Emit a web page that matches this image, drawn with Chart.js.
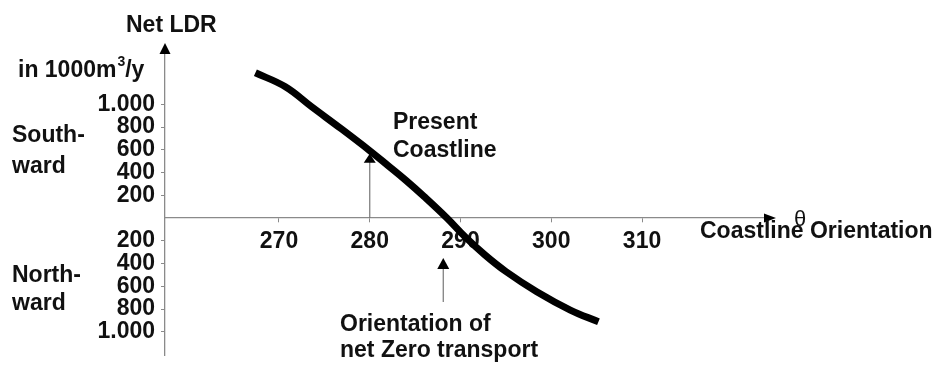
<!DOCTYPE html>
<html>
<head>
<meta charset="utf-8">
<script src="https://cdn.jsdelivr.net/npm/chart.js@4"></script>
<style>
  html, body { margin: 0; padding: 0; background: #fff; }
  #wrap { position: relative; width: 939px; height: 365px; }
</style>
</head>
<body>
<div id="wrap"><canvas id="c"></canvas></div>
<script>
// Net longshore drift rate (1000 m3/y) against coastline orientation (degrees)
const orientation = [267.4, 270.7, 273.6, 276.9, 280.0, 282.0, 284.0, 286.0, 288.5, 290.5, 292.7, 295.0, 298.4, 302.1, 305.2];
const netLDR      = [1277, 1154, 978, 782, 592, 462, 330, 188, 0, -165, -325, -470, -648, -809, -912];

// Axis ticks
const xTicks = [270, 280, 290, 300, 310];
const yTicks = [1000, 800, 600, 400, 200, -200, -400, -600, -800, -1000];

// Marked orientations
const presentOrientation = 280;
const presentArrowTip = 565;
const zeroOrientation = 288.1;
const zeroArrowTip = -352;
const zeroArrowTail = -738;

const FONT = "'Liberation Sans', Arial, Helvetica, sans-serif";
const INK = '#111';
const AXIS = '#8a8a8a';

function fmtThousands(v) {
  return String(Math.abs(v)).replace(/\B(?=(\d{3})+(?!\d))/g, '.');
}

// keep tick labels from pushing the plot area inwards
function noLabelPadding(s) {
  s.paddingTop = 0; s.paddingBottom = 0; s.paddingLeft = 0; s.paddingRight = 0;
}

function arrowHead(ctx, tipX, tipY, dir, len, half) {
  ctx.beginPath();
  if (dir === 'up') {
    ctx.moveTo(tipX, tipY);
    ctx.lineTo(tipX - half, tipY + len);
    ctx.lineTo(tipX + half, tipY + len);
  } else {
    ctx.moveTo(tipX, tipY);
    ctx.lineTo(tipX - len, tipY - half);
    ctx.lineTo(tipX - len, tipY + half);
  }
  ctx.closePath();
  ctx.fill();
}

const overlay = {
  id: 'overlay',
  afterDraw(chart) {
    const { ctx, chartArea, scales: { x, y } } = chart;
    const axisX = chartArea.left;
    const axisY = y.getPixelForValue(0);
    ctx.save();

    // axis arrowheads
    ctx.fillStyle = '#000';
    arrowHead(ctx, axisX, chartArea.top - 11, 'up', 11, 5.5);
    arrowHead(ctx, chartArea.right + 12, axisY, 'right', 12, 4.5);

    // "Present Coastline" pointer
    ctx.strokeStyle = '#777';
    ctx.lineWidth = 1.2;
    let px = x.getPixelForValue(presentOrientation);
    let tip = y.getPixelForValue(presentArrowTip);
    ctx.beginPath();
    ctx.moveTo(px, axisY);
    ctx.lineTo(px, tip + 8);
    ctx.stroke();
    arrowHead(ctx, px, tip, 'up', 9, 6);

    // "Orientation of net Zero transport" pointer
    px = x.getPixelForValue(zeroOrientation);
    tip = y.getPixelForValue(zeroArrowTip);
    const tail = y.getPixelForValue(zeroArrowTail);
    ctx.beginPath();
    ctx.moveTo(px, tail);
    ctx.lineTo(px, tip + 10);
    ctx.stroke();
    arrowHead(ctx, px, tip, 'up', 11, 6);

    // text
    ctx.fillStyle = INK;
    ctx.textAlign = 'left';
    ctx.textBaseline = 'alphabetic';
    const bold = `bold 23px ${FONT}`;
    const put = (t, tx, ty) => { ctx.font = bold; ctx.fillText(t, tx, ty); };

    put('Net LDR', 126, 32);

    ctx.font = bold;
    const w = ctx.measureText('in 1000m').width;
    ctx.fillText('in 1000m', 18, 77);
    ctx.font = `bold 14px ${FONT}`;
    ctx.fillText('3', 18 + w + 1, 66);
    const w3 = ctx.measureText('3').width;
    ctx.font = bold;
    ctx.fillText('/y', 18 + w + w3 + 1, 77);

    put('South-', 12, 142);
    put('ward', 12, 173);
    put('North-', 12, 282);
    put('ward', 12, 310);

    put('Present', 393, 129);
    put('Coastline', 393, 157);

    put('Orientation of', 340, 331);
    put('net Zero transport', 340, 357);

    put('Coastline Orientation', 700, 238);

    ctx.font = `22px ${FONT}`;
    ctx.textAlign = 'center';
    ctx.textBaseline = 'middle';
    ctx.fillText('\u03b8', 800, 220);

    ctx.restore();
  }
};

new Chart(document.getElementById('c'), {
  type: 'line',
  data: {
    datasets: [{
      data: orientation.map((o, i) => ({ x: o, y: netLDR[i] })),
      borderColor: '#000',
      borderWidth: 7,
      borderCapStyle: 'butt',
      borderJoinStyle: 'round',
      pointRadius: 0,
      fill: false,
      tension: 0.4,
      clip: false
    }]
  },
  options: {
    responsive: true,
    maintainAspectRatio: false,
    animation: false,
    events: [],
    layout: { padding: { left: 0, top: 54, right: 175, bottom: 10 } },
    plugins: { legend: { display: false }, tooltip: { enabled: false } },
    scales: {
      x: {
        type: 'linear',
        position: { y: 0 },
        min: 257.44,
        max: 323.44,
        afterBuildTicks: s => { s.ticks = xTicks.map(v => ({ value: v })); },
        afterFit: noLabelPadding,
        grid: { display: true, drawOnChartArea: false, drawTicks: true, tickLength: 4, color: AXIS },
        border: { display: true, color: AXIS, width: 1.3 },
        ticks: {
          autoSkip: false, maxRotation: 0, padding: 6, color: INK,
          font: { family: FONT, size: 23, weight: 'bold' },
          callback: v => String(v)
        }
      },
      y: {
        type: 'linear',
        position: 'left',
        min: -1204,
        max: 1442,
        afterBuildTicks: s => { s.ticks = yTicks.map(v => ({ value: v })); },
        afterFit: s => { s.width = 165; noLabelPadding(s); },
        grid: { display: true, drawOnChartArea: false, drawTicks: true, tickLength: 4, color: AXIS },
        border: { display: true, color: AXIS, width: 1.3 },
        ticks: {
          autoSkip: false, padding: 6, color: INK,
          font: { family: FONT, size: 23, weight: 'bold' },
          callback: v => fmtThousands(v)
        }
      }
    }
  },
  plugins: [overlay]
});
</script>
</body>
</html>
